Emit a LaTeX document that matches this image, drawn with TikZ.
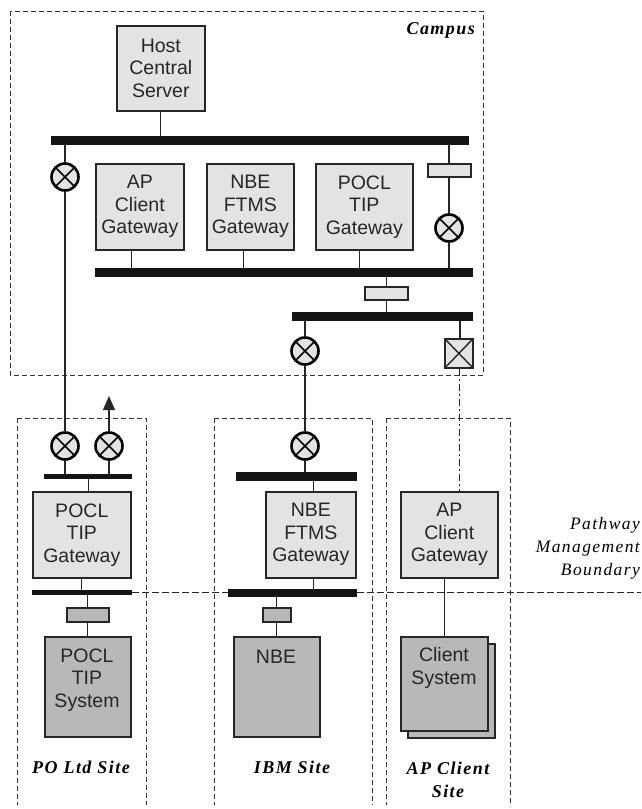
\documentclass[tikz,border=0pt]{standalone}
\usepackage{fontspec}
\setmainfont{Liberation Sans}
\newfontfamily\serifit[LetterSpace=8]{Liberation Serif}
\usetikzlibrary{arrows.meta}
\definecolor{lightfill}{gray}{0.89}
\definecolor{darkfill}{gray}{0.72}
\definecolor{barfill}{gray}{0.08}
\begin{document}
\begin{tikzpicture}[x=1pt,y=-1pt,
  box/.style={draw=black!85,line width=1.6pt,fill=lightfill,inner sep=0pt,align=center,
    font=\fontsize{19.5}{22.5}\selectfont,text=black!85,anchor=north west},
  sysbox/.style={box,fill=darkfill},
  boxlabel/.style={font=\fontsize{19.5}{22.5}\selectfont,text=black!85,inner sep=0pt,align=center},
  smallbox/.style={draw=black!85,line width=1.6pt,fill=lightfill,inner sep=0pt,anchor=north west},
  smalldark/.style={smallbox,fill=darkfill},
  bar/.style={fill=barfill,draw=none,inner sep=0pt,anchor=north west},
  sensor/.style={circle,draw=black,line width=2.6pt,fill=lightfill,minimum size=27pt,inner sep=0pt,
    path picture={\draw[line width=1.6pt] (path picture bounding box.south west)--(path picture bounding box.north east)
      (path picture bounding box.north west)--(path picture bounding box.south east);}},
  xsquare/.style={smallbox,line width=1.8pt,minimum width=28pt,minimum height=29pt,
    path picture={\draw[line width=1.4pt] (path picture bounding box.south west)--(path picture bounding box.north east)
      (path picture bounding box.north west)--(path picture bounding box.south east);}},
  wire/.style={draw=black!85,line width=1.2pt},
  dashdot/.style={draw=black!85,line width=1.1pt,dash pattern=on 7pt off 3pt on 2pt off 3pt},
  region/.style={draw=black!80,line width=1pt,dash pattern=on 5pt off 3pt},
  boundary/.style={draw=black!85,line width=1.5pt,dash pattern=on 7pt off 3pt},
  caption/.style={font=\serifit\itshape\bfseries\fontsize{18}{23}\selectfont,align=center,inner sep=0pt},
  note/.style={font=\serifit\itshape\fontsize{17.5}{23}\selectfont,align=right,inner sep=0pt,anchor=east}
]
\useasboundingbox (0,0) rectangle (641,809);
% regions
\draw[region] (10,11) rectangle (483,375);
\draw[region] (17,418) -- (146,418) -- (146,805) (17,418) -- (17,805);
\draw[region] (214,418) -- (372,418) -- (372,805) (214,418) -- (214,805);
\draw[region] (386,418) -- (510,418) -- (510,805) (386,418) -- (386,805);
% campus
\node[box,minimum width=88pt,minimum height=85pt] (host) at (116,25) {Host\\Central\\Server};
\node[bar,minimum width=418pt,minimum height=9pt] (bus1) at (51,136) {};
\node[box,minimum width=88pt,minimum height=86pt] (apcg) at (95,163) {AP\\Client\\Gateway};
\node[box,minimum width=87pt,minimum height=86pt] (nbecg) at (206,163) {NBE\\FTMS\\Gateway};
\node[box,minimum width=97pt,minimum height=86pt] (poclcg) at (315,163) {POCL\\TIP\\Gateway};
\node[smallbox,minimum width=43pt,minimum height=13pt] (r1) at (427,163) {};
\node[sensor] (s1) at (65,177) {};
\node[sensor] (s2) at (449,228) {};
\node[bar,minimum width=378pt,minimum height=9pt] (bus2) at (95,268) {};
\node[smallbox,minimum width=43pt,minimum height=13pt] (r2) at (364,286) {};
\node[bar,minimum width=181pt,minimum height=9pt] (bus3) at (292,312) {};
\node[sensor] (s3) at (305,351) {};
\node[xsquare] (sq) at (444,338) {};
% PO site
\node[sensor] (s4) at (65,446) {};
\node[sensor] (s5) at (109,446) {};
\coordinate (tip) at (109,396);
\node[bar,minimum width=88pt,minimum height=5pt] (bar4) at (44,474) {};
\node[box,minimum width=98pt,minimum height=86pt] (poclg) at (32,491) {POCL\\TIP\\Gateway};
\node[bar,minimum width=100pt,minimum height=5pt] (bar5) at (32,590) {};
\node[smalldark,minimum width=42pt,minimum height=14pt] (r3) at (66,607) {};
\node[sysbox,minimum width=86pt,minimum height=100pt] (poclsys) at (44,636) {};
\node[boxlabel] (poclsyslabel) at (87,680) {POCL\\TIP\\System};
% IBM site
\node[sensor] (s6) at (305,446) {};
\node[bar,minimum width=121pt,minimum height=9pt] (bar6) at (236,472) {};
\node[box,minimum width=90pt,minimum height=86pt] (nbeg) at (265,491) {NBE\\FTMS\\Gateway};
\node[bar,minimum width=129pt,minimum height=8pt] (bar7) at (228,589) {};
\node[smalldark,minimum width=28pt,minimum height=14pt] (r4) at (262,607) {};
\node[sysbox,minimum width=86pt,minimum height=100pt] (nbesys) at (233,636) {};
\node[boxlabel] (nbelabel) at (276,657) {NBE};
% AP site
\node[box,minimum width=97pt,minimum height=86pt] (apg) at (400,491) {AP\\Client\\Gateway};
\node[sysbox,minimum width=87pt,minimum height=94pt] (csysb) at (407,643) {};
\node[sysbox,minimum width=87pt,minimum height=94pt] (csys) at (400,636) {};
\node[boxlabel] (csyslabel) at (444,668) {Client\\System};
% wires
\draw[wire] (host.south) -- (host.south |- bus1.north);
\draw[wire] (s1.north) -- (s1.north |- bus1.south);
\draw[wire] (s1.south) -- (s4.north);
\draw[wire] (apcg.south) ++(-8,0) coordinate (a1) -- (a1 |- bus2.north);
\draw[wire] (nbecg.south) ++(-6.5,0) coordinate (a3) -- (a3 |- bus2.north);
\draw[wire] (poclcg.south) ++(-5,0) coordinate (a4) -- (a4 |- bus2.north);
\draw[wire] (s2.north) -- (s2.north |- r1.south);
\draw[wire] (s2.north |- r1.north) -- (s2.north |- bus1.south);
\draw[wire] (s2.south) -- (s2.south |- bus2.north);
\draw[wire] (r2.north) -- (r2.north |- bus2.south);
\draw[wire] (r2.south) -- (r2.south |- bus3.north);
\draw[wire] (s3.north) -- (s3.north |- bus3.south);
\draw[wire] (s3.south) -- (s6.north);
\draw[wire] (sq.north) ++(1,0) coordinate (q1) -- (q1 |- bus3.south);
\draw[dashdot] (sq.south) ++(1,0) coordinate (q2) -- (q2 |- apg.north);
\draw[wire,-{Triangle[width=12pt,length=14pt]}] (s5.north) -- (tip);
\draw[wire] (s4.south) -- (s4.south |- bar4.north);
\draw[wire] (s5.south) -- (s5.south |- bar4.north);
\draw[wire] (bar4.south) -- (bar4.south |- poclg.north);
\draw[wire] (poclg.south) -- (poclg.south |- bar5.north);
\draw[wire] (r3.north) -- (r3.north |- bar5.south);
\draw[wire] (r3.south) -- (r3.south |- poclsys.north);
\draw[wire] (s6.south) -- (s6.south |- bar6.north);
\draw[wire] (nbeg.north) ++(3,0) coordinate (n1) -- (n1 |- bar6.south);
\draw[wire] (nbeg.south) ++(3,0) coordinate (n2) -- (n2 |- bar7.north);
\draw[wire] (r4.north) -- (r4.north |- bar7.south);
\draw[wire] (r4.south) -- (r4.south |- nbesys.north);
\draw[wire] (apg.south) ++(-4.5,0) coordinate (a2) -- (a2 |- csys.north);
% boundary
\coordinate (bstart) at (bar5.east);
\coordinate (bmid) at (bstart -| bar7.west);
\draw[boundary] (bstart) -- (bmid);
\coordinate (bend) at (641,0);
\draw[boundary] (bstart -| bar7.east) -- (bstart -| bend);
% labels
\node[caption,anchor=east] (lcampus) at (475,30) {Campus};
\node[caption] (lpo) at (81,767) {PO Ltd Site};
\node[caption] (libm) at (292,767) {IBM Site};
\node[caption] (lap) at (448,780) {AP Client\\Site};
\node[note] (lpath) at (640,548) {Pathway\\Management\\Boundary};
\end{tikzpicture}
\end{document}
